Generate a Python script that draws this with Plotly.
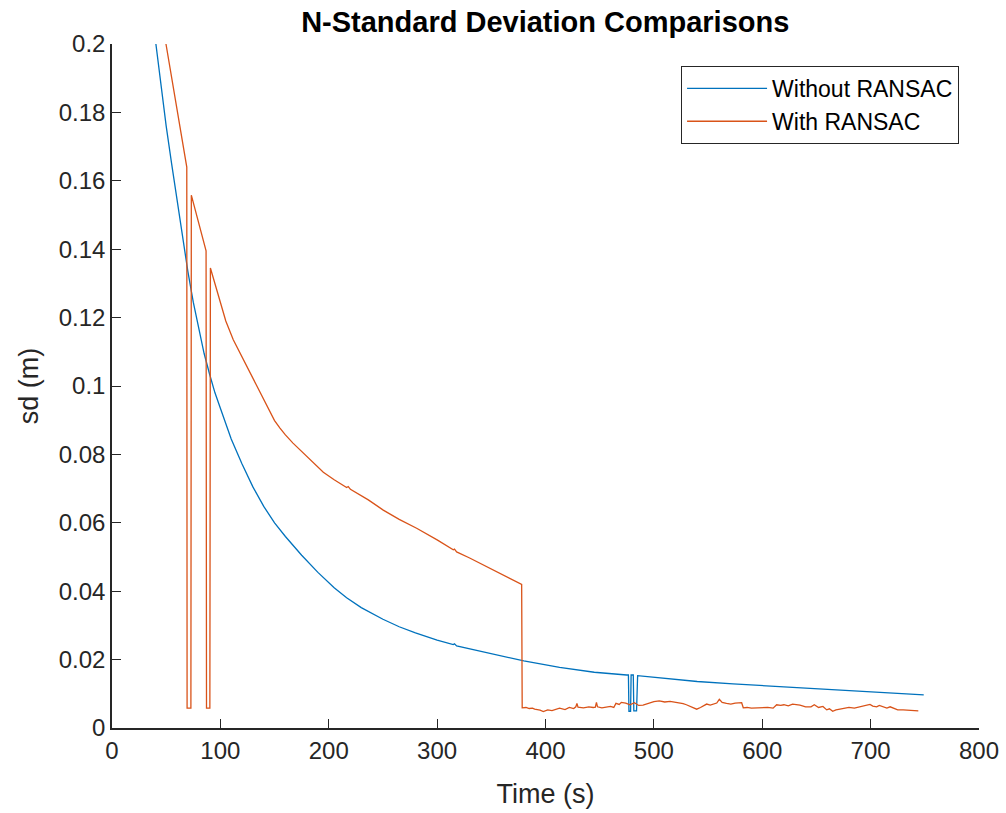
import plotly.graph_objects as go

# Without RANSAC (blue)
t_without = [40.5, 45, 50, 55, 60, 65, 70, 75, 80, 85, 90, 95, 100, 110, 120, 130, 140, 150,
             160, 175, 190, 205, 216.5, 230, 250, 265, 280, 300, 314.9, 316, 318, 340, 360,
             380, 413, 445, 474.9, 476.5, 477, 478.5, 479, 481, 481.5, 484, 485, 505.6,
             514.9, 540, 573, 607, 635, 665, 697, 720, 749]
sd_without = [0.2, 0.188, 0.176, 0.165, 0.154, 0.1435, 0.1335, 0.1245, 0.1165, 0.1095, 0.1035,
              0.098, 0.0935, 0.0845, 0.0772, 0.0705, 0.0648, 0.0600, 0.0560, 0.0505, 0.0455,
              0.041, 0.0381, 0.0352, 0.0318, 0.0296, 0.0278, 0.0257, 0.0244, 0.0246, 0.0240,
              0.0225, 0.0210, 0.0196, 0.0177, 0.0163, 0.0155, 0.0155, 0.0049, 0.0049, 0.0155,
              0.0155, 0.005, 0.005, 0.0153, 0.0147, 0.0143, 0.0136, 0.0129, 0.0123, 0.0117,
              0.0112, 0.0106, 0.0102, 0.0097]

# With RANSAC (orange)
t_with = [49.8, 55, 60, 65, 69, 69.3, 72.8, 73.2, 80, 86.8, 87.2, 90.3, 90.8, 99.7, 105, 111.9,
          120, 127.3, 140, 145, 150, 155, 160, 167, 173.5, 185, 195, 205, 216.5, 218, 220,
          236.5, 250.3, 265, 281.1, 300, 314.9, 316, 318, 330, 342.6, 360, 378, 378.5,
          382, 385, 388, 390, 393, 395, 398, 402, 406, 410, 413, 418, 422, 426, 428, 429, 430,
          435, 440, 444, 446, 447, 448, 452, 455, 460, 463, 465, 468, 470, 474, 478, 482, 486,
          490, 495, 500, 505, 510, 515, 520, 524, 527, 530, 535, 539.5, 543, 548.7, 552, 555,
          558, 560.4, 563, 567, 571, 575, 581, 582.5, 586, 590, 595, 600, 605, 610, 613.3, 617,
          620, 624, 628, 634.8, 637, 640, 645, 648, 652, 656, 659.5, 662, 665, 668, 671.7, 676,
          680, 685, 690, 694, 699.4, 702, 705.6, 708, 710, 713, 715, 718, 721, 725, 730, 735,
          740, 744, 748.6]
sd_with = [0.2, 0.19, 0.181, 0.172, 0.164, 0.0058, 0.0058, 0.1558, 0.148, 0.1395, 0.0058, 0.0058,
           0.1345, 0.1251, 0.119, 0.1135, 0.1085, 0.1037, 0.0957, 0.0926, 0.0899, 0.0877,
           0.0857, 0.0833, 0.0813, 0.0778, 0.0748, 0.0726, 0.0703, 0.0706, 0.0698, 0.0667,
           0.0637, 0.0610, 0.0584, 0.055, 0.0521, 0.0523, 0.0515, 0.0497, 0.0477, 0.0449,
           0.0420, 0.0059,
           0.0060, 0.0057, 0.0058, 0.0055, 0.0054, 0.0052, 0.0048, 0.0053, 0.0051, 0.0056,
           0.0058, 0.0054, 0.0060, 0.0057, 0.0062, 0.0072, 0.0061, 0.0059, 0.0062, 0.0060,
           0.0061, 0.0075, 0.0062, 0.0059, 0.0061, 0.0063, 0.0060, 0.0072, 0.0069, 0.0075,
           0.0073, 0.0068, 0.0074, 0.0066, 0.0067, 0.0073, 0.0077, 0.0079, 0.0076, 0.0078,
           0.0076, 0.0074, 0.0071, 0.0068, 0.0062, 0.0055, 0.0060, 0.0070, 0.0067, 0.0071,
           0.0073, 0.0084, 0.0075, 0.0072, 0.0070, 0.0073, 0.0074, 0.0059, 0.0060, 0.0058,
           0.0059, 0.0058, 0.0060, 0.0058, 0.0068, 0.0066, 0.0068, 0.0065, 0.0070, 0.0067,
           0.0064, 0.0062, 0.0062, 0.0068, 0.0060, 0.0063, 0.0053, 0.0056, 0.0049, 0.0053,
           0.0055, 0.0057, 0.0060, 0.0058, 0.0062, 0.0065, 0.0069, 0.0064, 0.0062, 0.0066,
           0.0064, 0.0060, 0.0058, 0.0062, 0.0058, 0.0053, 0.0053, 0.0052, 0.0051, 0.0050]

x_ticks = [0, 100, 200, 300, 400, 500, 600, 700, 800]
y_ticks = [0, 0.02, 0.04, 0.06, 0.08, 0.1, 0.12, 0.14, 0.16, 0.18, 0.2]
y_tick_text = ["0", "0.02", "0.04", "0.06", "0.08", "0.1", "0.12", "0.14", "0.16", "0.18", "0.2"]

FONT = "Liberation Sans, Arial, sans-serif"
AX = "#262626"

fig = go.Figure()
fig.add_trace(go.Scatter(x=t_without, y=sd_without, mode="lines", name="Without RANSAC",
                         line=dict(color="#0072BD", width=1.3)))
fig.add_trace(go.Scatter(x=t_with, y=sd_with, mode="lines", name="With RANSAC",
                         line=dict(color="#D95319", width=1.3)))

fig.update_layout(
    width=1006, height=813,
    margin=dict(l=112, r=27, t=44, b=85, autoexpand=False),
    paper_bgcolor="white", plot_bgcolor="white",
    font=dict(family=FONT, size=24, color=AX),
    title=dict(text="<b>N-Standard Deviation Comparisons</b>", x=0.542, xanchor="center",
               y=0.973, yanchor="middle", font=dict(family=FONT, size=29, color="black")),
    xaxis=dict(range=[0, 800], tickvals=x_ticks, ticks="inside", ticklen=9, tickwidth=1.3,
               tickcolor=AX, showline=True, linecolor=AX, linewidth=1.5, showgrid=False,
               zeroline=False, mirror=False, automargin=False,
               title=dict(text="Time (s)", font=dict(size=27, color=AX), standoff=22),
               tickfont=dict(size=24, color=AX)),
    yaxis=dict(range=[0, 0.2], tickvals=y_ticks, ticktext=y_tick_text, ticks="inside",
               ticklen=9, tickwidth=1.3, tickcolor=AX, showline=True, linecolor=AX,
               linewidth=1.5, showgrid=False, zeroline=False, mirror=False, automargin=False,
               title=dict(text="sd (m)", font=dict(size=27, color=AX), standoff=12),
               tickfont=dict(size=24, color=AX)),
    legend=dict(x=0.977, y=0.968, xanchor="right", yanchor="top", bgcolor="white",
                bordercolor="#262626", borderwidth=1, font=dict(size=23, color="black"),
                tracegroupgap=0, itemwidth=80),
    showlegend=True,
)

fig.write_html("out.html")
